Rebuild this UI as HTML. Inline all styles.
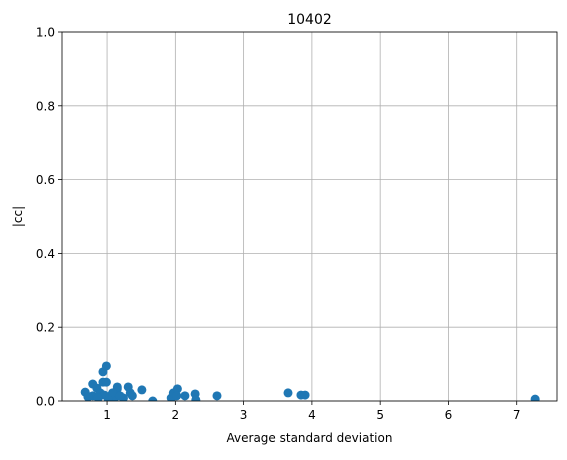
<!DOCTYPE html>
<html><head><meta charset="utf-8"><style>
body{margin:0;background:#fff}
svg{font-family:"DejaVu Sans","Liberation Sans",sans-serif}
</style></head><body>
<svg id="c" width="567" height="455"><defs><clipPath id="pc"><rect x="62" y="32" width="495" height="369"/></clipPath></defs></svg>
<script>
const xs=[0.68,0.79,0.85,0.79,0.90,0.94,0.99,0.94,0.99,0.96,1.05,1.15,1.15,1.11,1.24,1.31,1.34,1.37,1.51,1.67,1.94,1.97,2.03,2.02,2.14,2.29,2.30,2.61,3.65,3.84,3.90,7.27,0.72,0.87,1.08,1.02,1.19];
const ys=[0.024,0.046,0.035,0.014,0.022,0.079,0.095,0.051,0.051,0.016,0.014,0.033,0.038,0.008,0.008,0.038,0.022,0.014,0.030,0.000,0.008,0.022,0.033,0.014,0.014,0.019,0.003,0.014,0.022,0.016,0.016,0.005,0.011,0.008,0.022,0.003,0.014];
const xTicks=[1,2,3,4,5,6,7];
const yTicks=[0,0.2,0.4,0.6,0.8,1.0];
const L=62,R=557,T=32,B=401,xmin=0.34,xmax=7.59,ymin=0,ymax=1;
const X=v=>L+(v-xmin)/(xmax-xmin)*(R-L);
const Y=v=>B-(v-ymin)/(ymax-ymin)*(B-T);
const svg=document.getElementById('c');const NS='http://www.w3.org/2000/svg';
function mk(t,a,p){const e=document.createElementNS(NS,t);for(const k in a)e.setAttribute(k,a[k]);(p||svg).appendChild(e);return e;}
xTicks.forEach(v=>{
const g=mk('line',{x1:X(v),x2:X(v),y1:T,y2:B,stroke:'#b0b0b0','stroke-width':0.8});


mk('line',{x1:X(v),x2:X(v),y1:B,y2:B+4,stroke:'#000','stroke-width':0.8});
const t=mk('text',{x:X(v),y:B+18,'text-anchor':'middle','font-size':12});t.textContent=v;


});
yTicks.forEach(v=>{
const g=mk('line',{x1:L,x2:R,y1:Y(v),y2:Y(v),stroke:'#b0b0b0','stroke-width':0.8});


mk('line',{x1:L-4,x2:L,y1:Y(v),y2:Y(v),stroke:'#000','stroke-width':0.8});
const t=mk('text',{x:L-7,y:Y(v)+4.5,'text-anchor':'end','font-size':12});t.textContent=v.toFixed(1);


});
const pg=mk('g',{'clip-path':'url(#pc)'});
xs.forEach((v,i)=>{
const c=mk('circle',{cx:X(v),cy:Y(ys[i]),r:4.5,fill:'#1f77b4'},pg);


});
const f=mk('rect',{x:L,y:T,width:R-L,height:B-T,fill:'none',stroke:'#000','stroke-width':0.8});


const tt=mk('text',{x:(L+R)/2,y:T-8,'text-anchor':'middle','font-size':14});tt.textContent='10402';


const xl=mk('text',{x:(L+R)/2,y:442,'text-anchor':'middle','font-size':12});xl.textContent='Average standard deviation';


const yl=mk('text',{x:0,y:0,'text-anchor':'middle','font-size':12,transform:'translate(22,'+((T+B)/2)+') rotate(-90)'});yl.textContent='|cc|';


</script>
</body></html>
